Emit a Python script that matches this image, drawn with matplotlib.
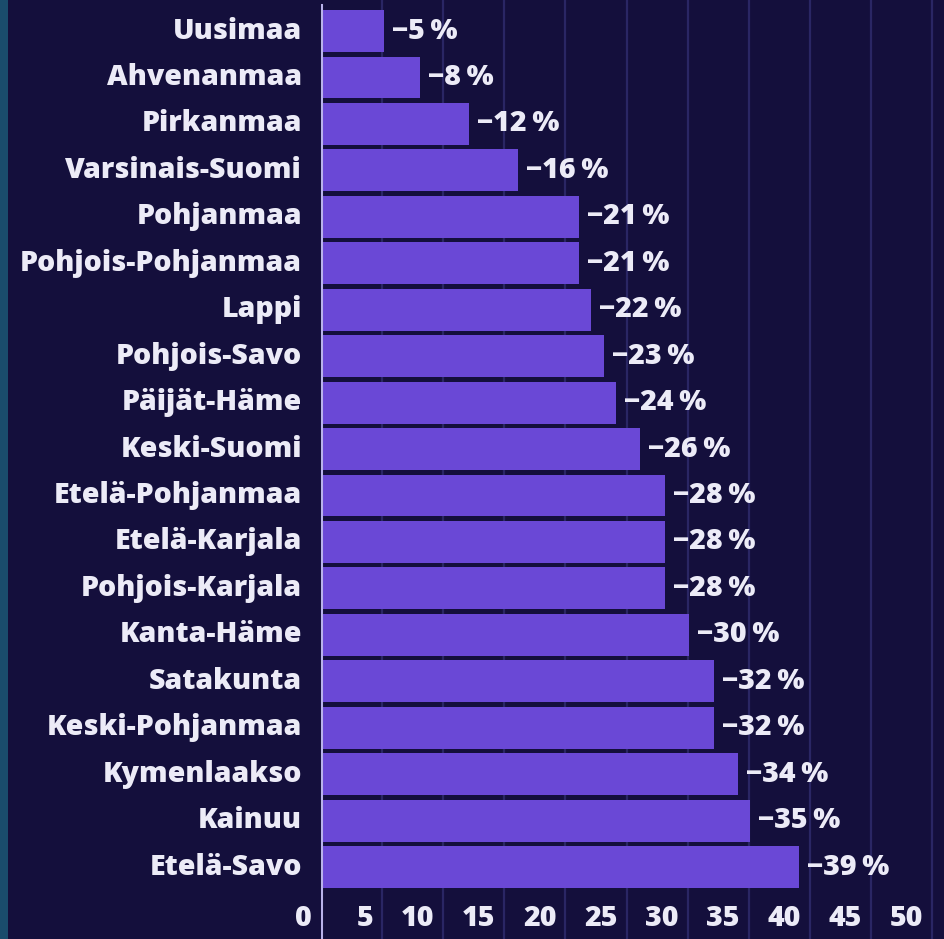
import matplotlib
matplotlib.use("Agg")
import matplotlib.pyplot as plt
from matplotlib.patches import Rectangle

regions = ["Uusimaa", "Ahvenanmaa", "Pirkanmaa", "Varsinais-Suomi", "Pohjanmaa",
           "Pohjois-Pohjanmaa", "Lappi", "Pohjois-Savo", "Päijät-Häme", "Keski-Suomi",
           "Etelä-Pohjanmaa", "Etelä-Karjala", "Pohjois-Karjala", "Kanta-Häme",
           "Satakunta", "Keski-Pohjanmaa", "Kymenlaakso", "Kainuu", "Etelä-Savo"]
values = [5, 8, 12, 16, 21, 21, 22, 23, 24, 26, 28, 28, 28, 30, 32, 32, 34, 35, 39]
ticks = [0, 5, 10, 15, 20, 25, 30, 35, 40, 45, 50]

BG = "#140f3c"
BAR = "#6a48d6"
TXT = "#ecebf7"
GRID = "#2a2664"
AXIS = "#b9b2ea"
STRIP = "#1a4c6c"

W, H = 944, 939
fig = plt.figure(figsize=(W / 100, H / 100), dpi=100, facecolor=BG)
fig.patches.append(Rectangle((0, 0), 8 / W, 1, transform=fig.transFigure,
                             facecolor=STRIP, edgecolor="none", zorder=0))

x0 = 321
ax = fig.add_axes([x0 / W, 0, (W - x0) / W, 1])
ax.set_facecolor("none")
pxu = 12.22
ax.set_xlim(0, (W - x0) / pxu)
step = 46.45
top = 31
ax.set_ylim((H - top) / step, -top / step)
for s in ax.spines.values():
    s.set_visible(False)
ax.set_xticks([])
ax.set_yticks([])

font = ["Open Sans", "DejaVu Sans"]
fs = 20.5
wt = 800
n = len(regions)
for t in ticks[1:]:
    ax.plot([t, t], [-top / step, (H - top) / step], color=GRID, lw=1.6, zorder=1)
ax.plot([0, 0], [(5 - top) / step, (H - top) / step], color=AXIS, lw=2.2, zorder=3)

ax.barh(range(n), values, height=0.9, color=BAR, left=0.12, zorder=2)

for i, (r, v) in enumerate(zip(regions, values)):
    ax.text(-19 / pxu, i, r, ha="right", va="center", color=TXT, fontsize=fs,
            fontweight=wt, family=font)
    ax.text(v + 0.12 + 8 / pxu, i, f"\u2212{v}\u2009%", ha="left", va="center",
            color=TXT, fontsize=fs, fontweight=wt, family=font, zorder=4)

ty = (918 - top) / step
for t in ticks:
    ax.text(t - 9 / pxu, ty, str(t), ha="right", va="center", color=TXT,
            fontsize=fs, fontweight=wt, family=font)

fig.savefig("out.png", dpi=100, facecolor=BG)
